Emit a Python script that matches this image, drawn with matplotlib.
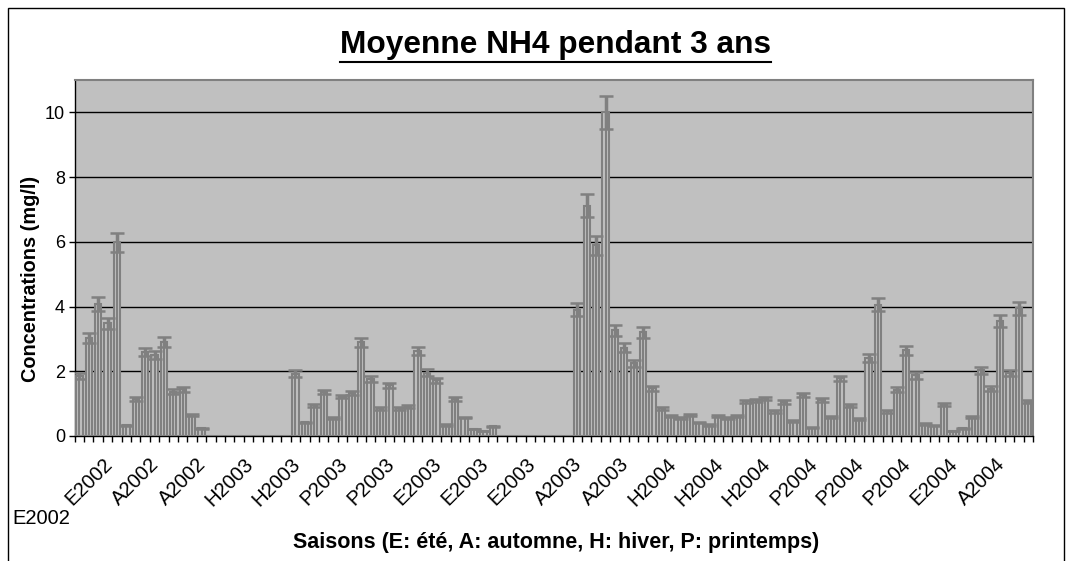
import matplotlib
matplotlib.use('Agg')
import matplotlib.pyplot as plt
import matplotlib.transforms as mtransforms
from matplotlib.lines import Line2D
from matplotlib.patches import Rectangle
import numpy as np

plt.rcParams['font.family'] = ['Liberation Sans', 'DejaVu Sans']

# moyennes NH4 (mg/l), une barre par prelevement
nh4 = [1.85, 3.03, 4.08, 3.48, 5.98, 0.33, 1.14, 2.60, 2.50, 2.90,
       1.37, 1.44, 0.65, 0.24, 0, 0, 0, 0, 0, 0,
       0, 0, 0, 1.93, 0.42, 0.95, 1.35, 0.55, 1.22, 1.32,
       2.89, 1.77, 0.86, 1.57, 0.85, 0.90, 2.63, 1.96, 1.72, 0.34,
       1.15, 0.57, 0.22, 0.15, 0.30, 0, 0, 0, 0, 0,
       0, 0, 0, 3.90, 7.12, 5.89, 10.0, 3.26, 2.73, 2.25,
       3.20, 1.47, 0.85, 0.62, 0.55, 0.65, 0.41, 0.34, 0.63, 0.55,
       0.63, 1.07, 1.10, 1.16, 0.76, 1.05, 0.47, 1.28, 0.26, 1.12,
       0.60, 1.78, 0.93, 0.52, 2.40, 4.05, 0.76, 1.43, 2.65, 1.87,
       0.37, 0.32, 0.97, 0.15, 0.24, 0.60, 2.03, 1.46, 3.56, 1.94,
       3.94, 1.06]

# etiquettes de l'axe x (une toutes les 5 barres)
saisons = ['E2002', 'E2002', 'A2002', 'A2002', 'H2003', 'H2003', 'P2003',
           'P2003', 'E2003', 'E2003', 'E2003', 'A2003', 'A2003', 'H2004',
           'H2004', 'H2004', 'P2004', 'P2004', 'P2004', 'E2004', 'A2004']
label_step = 5
err_pct = 0.05  # barres d'erreur en pourcentage

v = np.array(nh4)
x = np.arange(len(v))
m = v > 0

W, H = 1072, 561
fig = plt.figure(figsize=(W / 100, H / 100), dpi=100)
ax = fig.add_axes([74.7 / W, 1 - 436 / H, (1033 - 74.7) / W, 356 / H])
ax.set_facecolor('#c0c0c0')

gray = '#808080'
ax.bar(x, v, width=0.67, color='#c0c0c0', edgecolor=gray, linewidth=1.5, zorder=3)
ax.vlines(x[m], 0, v[m], color=gray, lw=1.5, zorder=4)
ax.errorbar(x[m], v[m], yerr=v[m] * err_pct, fmt='none', ecolor=gray,
            elinewidth=2.5, capsize=5, capthick=1.8, zorder=5)

ax.set_xlim(-0.5, len(v) - 0.5)
ax.set_ylim(0, 11)
ax.set_yticks(np.arange(0, 11, 2))
ax.yaxis.grid(True, color='black', lw=1)
ax.set_axisbelow(True)

for s in ['left', 'bottom']:
    ax.spines[s].set_color('black')
    ax.spines[s].set_linewidth(1)
for s in ['top', 'right']:
    ax.spines[s].set_color(gray)
    ax.spines[s].set_linewidth(1.5)

ax.tick_params(axis='y', direction='out', length=4, width=1, labelsize=13, pad=3)

# graduations entre les categories
ax.set_xticks(np.arange(-0.5, len(v), 1), minor=True)
ax.tick_params(axis='x', which='minor', direction='out', length=4, width=1)
pos = x[::label_step][:len(saisons)]
ax.set_xticks(pos, [''] + saisons[1:])
ax.tick_params(axis='x', which='major', length=0, pad=18, labelsize=14.5)
shift = mtransforms.ScaledTranslation(-17 / 100, 0, fig.dpi_scale_trans)
for lbl in ax.get_xticklabels():
    lbl.set_rotation(45)
    lbl.set_ha('right')
    lbl.set_va('center')
    lbl.set_rotation_mode('anchor')
    lbl.set_transform(lbl.get_transform() + shift)

# premiere etiquette restee horizontale
shift0 = mtransforms.ScaledTranslation(-9 / 100, 0, fig.dpi_scale_trans)
ax.text(pos[0], -0.233, saisons[0],
        transform=ax.get_xaxis_transform() + shift0,
        ha='right', va='center', fontsize=14.5)

ax.set_ylabel('Concentrations (mg/l)', fontsize=14.3, fontweight='bold')
ax.yaxis.set_label_coords(-0.036, 0.441)
ax.set_xlabel('Saisons (E: été, A: automne, H: hiver, P: printemps)',
              fontsize=15.5, fontweight='bold')
ax.xaxis.set_label_coords(0.58 * 0 + (556.5 - 74.7) / (1033 - 74.7), -0.27)

t = fig.text(555 / W, 1 - 45 / H, 'Moyenne NH4 pendant 3 ans', ha='center',
             va='center', fontsize=22.8, fontweight='bold')
fig.canvas.draw()
bb = t.get_window_extent().transformed(fig.transFigure.inverted())
fig.add_artist(Line2D([bb.x0, bb.x1], [bb.y0 - 0.003, bb.y0 - 0.003],
                      transform=fig.transFigure, color='black', lw=1.5))

fig.add_artist(Rectangle((8 / W, -0.01), (1064 - 8) / W, 1 - 8 / H + 0.01,
                         transform=fig.transFigure, fill=False,
                         edgecolor='black', lw=1))

fig.savefig('out.png', dpi=100)
